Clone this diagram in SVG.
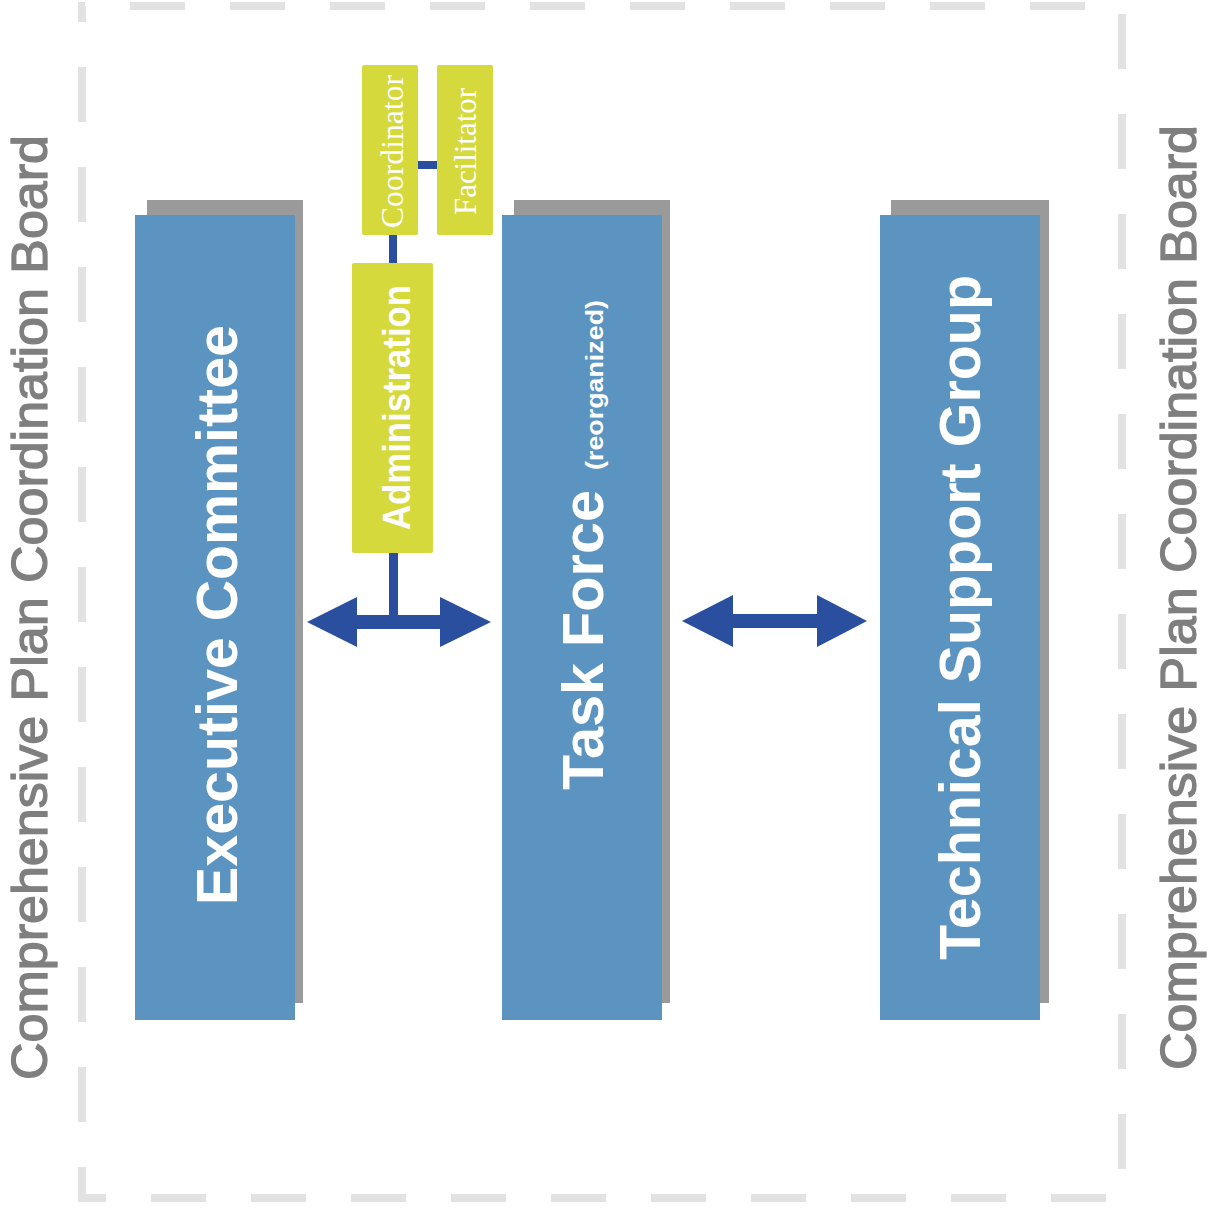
<svg xmlns="http://www.w3.org/2000/svg" width="1208" height="1220" viewBox="0 0 1208 1220">
<style>
.board{font-family:"Liberation Sans",Arial,sans-serif;font-size:50px;fill:#7f7f7f;stroke:#7f7f7f;stroke-width:1.3}
.main{font-family:"Liberation Sans",Arial,sans-serif;font-weight:bold;font-size:57px;fill:#ffffff}
.blue{fill:#5b93c1}
.shadow{fill:#9a9a9a}
.yel{fill:#d5d93b}
.arrow{fill:#2a4f9e}
.small{font-family:"Liberation Sans",Arial,sans-serif;font-weight:bold;font-size:24px;fill:#ffffff}
.serif{font-family:"Liberation Serif","Times New Roman",serif;font-size:32px;fill:#ffffff}
.admin{font-family:"Liberation Sans",Arial,sans-serif;font-weight:bold;font-size:38px;fill:#ffffff}
</style>
<rect width="1208" height="1220" fill="#ffffff"/>
<rect x="82" y="6" width="1040" height="1192" fill="none" stroke="#e2e2e2" stroke-width="8" stroke-dasharray="55 45" stroke-dashoffset="52"/>

<text class="board" transform="translate(47,1080) rotate(-90)" textLength="945" lengthAdjust="spacingAndGlyphs">Comprehensive Plan Coordination Board</text>
<text class="board" transform="translate(1196,1070) rotate(-90)" textLength="945" lengthAdjust="spacingAndGlyphs">Comprehensive Plan Coordination Board</text>

<g id="connectors">
  <rect class="arrow" x="389" y="235" width="8" height="30"/>
  <rect class="arrow" x="389" y="552" width="9" height="66"/>
  <rect class="arrow" x="418" y="161" width="20" height="8"/>
  <path class="arrow" d="M307,622 L357,597 L357,615 L440,615 L440,597 L491,622 L440,647 L440,629 L357,629 L357,647 Z"/>
  <path class="arrow" d="M682,621 L733,595 L733,614 L817,614 L817,595 L867,621 L817,647 L817,628 L733,628 L733,647 Z"/>
</g>

<g id="exec">
  <rect class="shadow" x="147" y="200" width="156" height="803"/>
  <rect class="blue" x="135" y="215" width="160" height="805"/>
  <text class="main" transform="translate(237,905) rotate(-90)" textLength="580" lengthAdjust="spacingAndGlyphs">Executive Committee</text>
</g>

<g id="taskforce">
  <rect class="shadow" x="514" y="200" width="156" height="803"/>
  <rect class="blue" x="502" y="215" width="160" height="805"/>
  <text class="main" transform="translate(603,790) rotate(-90)" textLength="300" lengthAdjust="spacingAndGlyphs">Task Force</text>
  <text class="small" transform="translate(603,470) rotate(-90)" textLength="170" lengthAdjust="spacingAndGlyphs">(reorganized)</text>
</g>

<g id="tsg">
  <rect class="shadow" x="891" y="200" width="158" height="803"/>
  <rect class="blue" x="880" y="215" width="160" height="805"/>
  <text class="main" transform="translate(980,960) rotate(-90)" textLength="685" lengthAdjust="spacingAndGlyphs">Technical Support Group</text>
</g>

<g id="coordinator">
  <rect class="yel" x="362" y="65" width="56" height="170" rx="2"/>
  <text class="serif" transform="translate(403,228) rotate(-90)" textLength="153" lengthAdjust="spacingAndGlyphs">Coordinator</text>
</g>

<g id="facilitator">
  <rect class="yel" x="437" y="65" width="56" height="170" rx="2"/>
  <text class="serif" transform="translate(476,215) rotate(-90)" textLength="127" lengthAdjust="spacingAndGlyphs">Facilitator</text>
</g>

<g id="administration">
  <rect class="yel" x="352" y="263" width="81" height="290" rx="2"/>
  <text class="admin" transform="translate(410,530) rotate(-90)" textLength="245" lengthAdjust="spacingAndGlyphs">Administration</text>
</g>
</svg>
